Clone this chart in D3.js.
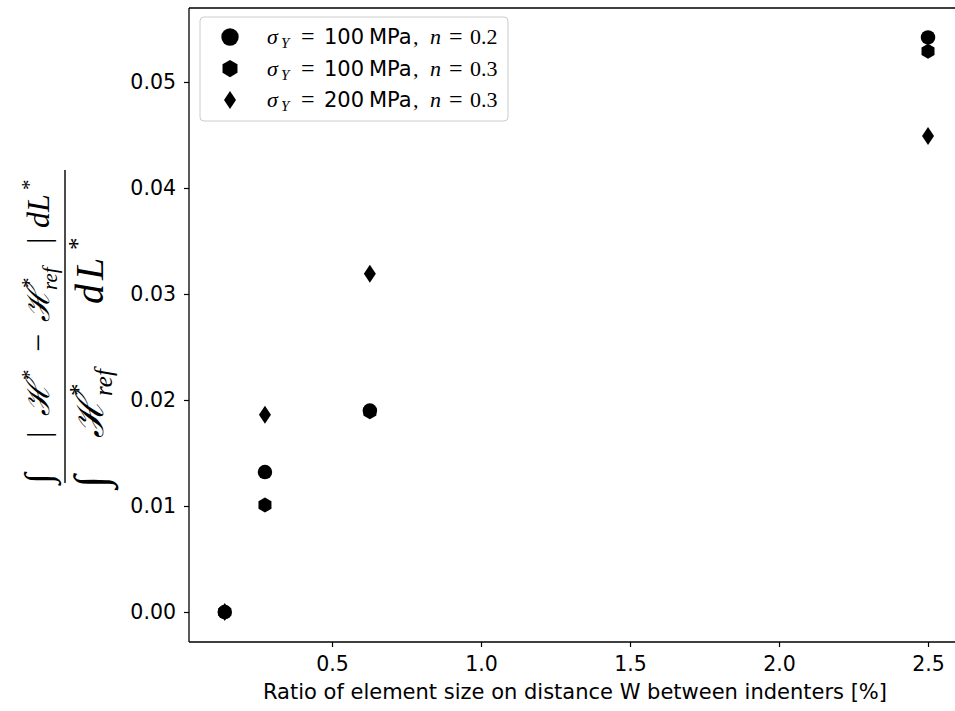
<!DOCTYPE html>
<html><head><meta charset="utf-8">
<script src="https://cdn.jsdelivr.net/npm/d3@7"></script>
<style>body{margin:0;background:#fff}svg{display:block}</style>
</head><body>
<script>
const xValues = [0.14, 0.275, 0.627, 2.5];
const seriesSymbols = ["circle", "hexagon", "diamond"];
const s1 = [0.0, 0.0132, 0.0190, 0.0542];
const s2 = [0.0, 0.0101, 0.0189, 0.0529];
const s3 = [0.0, 0.0186, 0.0319, 0.0449];
const xTicks = [0.5, 1.0, 1.5, 2.0, 2.5];
const yTicks = [0.00, 0.01, 0.02, 0.03, 0.04, 0.05];
const legendYield = ["100", "100", "200"];
const legendN = ["0.2", "0.3", "0.3"];

(function () {
const W = 955, H = 711;
const svg = d3.select("body").append("svg").attr("width", W).attr("height", H);
const pL = 189, pR = 963, pT = 8, pB = 642;
const x = d3.scaleLinear().domain([0.0201, 2.6174]).range([pL, pR]);
const y = d3.scaleLinear().domain([-0.00283, 0.05698]).range([pB, pT]);

const sans = "DejaVu Sans, sans-serif";
const serif = "'Liberation Serif', 'DejaVu Serif', serif";

const xa = svg.append("g").attr("transform", `translate(0,${pB})`)
  .call(d3.axisBottom(x).tickValues(xTicks).tickFormat(d3.format(".1f")).tickSizeOuter(0).tickSize(5).tickPadding(9));
const ya = svg.append("g").attr("transform", `translate(${pL},0)`)
  .call(d3.axisLeft(y).tickValues(yTicks).tickFormat(d3.format(".2f")).tickSizeOuter(0).tickSize(5).tickPadding(8));
[xa, ya].forEach(a => {
  a.selectAll("text").attr("font-family", sans).attr("font-size", 20.5).attr("fill", "#000");
  a.selectAll("line").attr("stroke", "#000").attr("stroke-width", 1.2);
  a.select(".domain").remove();
});
svg.append("line").attr("x1", pL).attr("x2", pL).attr("y1", pT).attr("y2", pB).attr("stroke", "#000").attr("stroke-width", 1.3);
svg.append("line").attr("x1", pL).attr("x2", W).attr("y1", pB).attr("y2", pB).attr("stroke", "#000").attr("stroke-width", 1.3);
svg.append("line").attr("x1", pL).attr("x2", W).attr("y1", pT).attr("y2", pT).attr("stroke", "#000").attr("stroke-width", 1.3);

function symPath(kind, s) {
  s = s || 1;
  if (kind === "circle") return d3.symbol(d3.symbolCircle, 165 * s * s)();
  if (kind === "hexagon") {
    const r = 7.5 * s; const pts = [];
    for (let i = 0; i < 6; i++) { const a = Math.PI / 2 + i * Math.PI / 3; pts.push([r * Math.cos(a), r * Math.sin(a)]); }
    return "M" + pts.map(p => p.join(",")).join("L") + "Z";
  }
  return `M0,${-9 * s}L${6 * s},0L0,${9 * s}L${-6 * s},0Z`;
}
[s1, s2, s3].forEach((vals, si) => {
  svg.append("g").selectAll("path").data(vals).join("path")
    .attr("d", symPath(seriesSymbols[si]))
    .attr("transform", (d, i) => `translate(${x(xValues[i])},${y(d)})`)
    .attr("fill", "#000");
});

// legend
const lg = svg.append("g");
lg.append("rect").attr("x", 200).attr("y", 17).attr("width", 308).attr("height", 104).attr("rx", 4)
  .attr("fill", "#fff").attr("fill-opacity", 0.8).attr("stroke", "#ccc").attr("stroke-width", 1);
const lScale = [1.2, 1.15, 1.0];
legendYield.forEach((yv, i) => {
  const cy = 37 + i * 31.5;
  lg.append("path").attr("d", symPath(seriesSymbols[i], lScale[i])).attr("transform", `translate(230,${cy})`).attr("fill", "#000");
  const base = cy + 7;
  const add = (tx, xx, fam, opts) => {
    const t = lg.append("text").attr("x", xx).attr("y", base + (opts && opts.dy || 0))
      .attr("font-family", fam).attr("font-size", (opts && opts.fs) || 22).attr("fill", "#000").text(tx);
    if (opts && opts.it) t.attr("font-style", "italic");
  };
  add("σ", 267, serif, {it: true});
  add("Y", 281, serif, {it: true, fs: 15, dy: 4});
  add("=", 301, serif, {fs: 24});
  add(yv, 324, sans, {fs: 21});
  add("MPa", 369, sans, {fs: 21});
  add(",", 413, serif, {});
  add("n", 430, serif, {it: true});
  add("=", 449, serif, {fs: 24});
  add(legendN[i], 470, serif, {});
});

svg.append("text").attr("x", 575).attr("y", 699).attr("text-anchor", "middle")
  .attr("font-family", sans).attr("font-size", 21).attr("fill", "#000")
  .text("Ratio of element size on distance W between indenters [%]");

// y label (fraction), rotated; local x = 328 - pageY, local y = pageX - 65
const yl = svg.append("g").attr("transform", "translate(65,328) rotate(-90)");
yl.append("line").attr("x1", -155).attr("x2", 158).attr("y1", 0).attr("y2", 0).attr("stroke", "#000").attr("stroke-width", 1.4);
const piece = (tx, lx, ly, fs, it) => {
  const t = yl.append("text").attr("x", lx).attr("y", ly).attr("font-family", serif)
    .attr("font-size", fs).attr("fill", "#000").text(tx);
  if (it) t.attr("font-style", "italic");
};
// numerator
const nb = -16;
piece("∫", -156, nb + 2, 38, true);
piece("|", -110, nb, 32, false);
piece("ℋ", -88, nb, 32, true);
piece("*", -52, nb - 13, 21, false);
piece("−", -24, nb, 32, false);
piece("ℋ", 6, nb, 32, true);
piece("*", 40, nb - 13, 21, false);
piece("ref", 38, nb + 8, 21, true);
piece("|", 84, nb, 32, false);
piece("d", 100, nb, 32, true);
piece("L", 116, nb, 32, true);
piece("*", 138, nb - 13, 21, false);
// denominator
const db = 38;
piece("∫", -160, db + 3, 46, true);
piece("ℋ", -110, db, 38, true);
piece("*", -68, db - 16, 25, false);
piece("ref", -68, db + 9, 25, true);
piece("d", 24, db, 40, true);
piece("L", 48, db, 40, true);
piece("*", 78, db - 17, 25, false);
})();
</script>
</body></html>
